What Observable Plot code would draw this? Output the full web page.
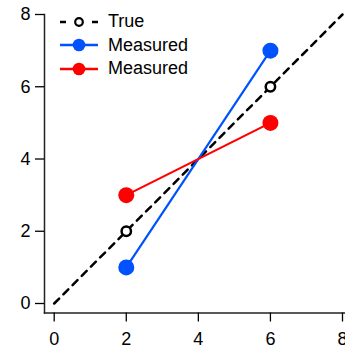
<!DOCTYPE html>
<html><head><meta charset="utf-8">
<script src="https://cdn.jsdelivr.net/npm/d3@7"></script>
<script src="https://cdn.jsdelivr.net/npm/@observablehq/plot@0.6"></script>
<style>
body{margin:0;background:#fff}
#c{position:relative;width:345px;height:351px;font-family:"Liberation Sans",Arial,sans-serif;color:#000}
#legend{position:absolute;left:60px;top:10px;font-size:18px;line-height:23.5px}
.row{display:flex;align-items:center;height:23.5px}
.row svg{margin-right:10px}
</style></head><body><div id="c"></div>
<script>
const xTicks = [0, 2, 4, 6, 8];
const yTicks = [0, 2, 4, 6, 8];
const lineX = [0, 8];
const lineY = [0, 8];
const trueX = [2, 6];
const trueY = [2, 6];
const blueX = [2, 6];
const blueY = [1, 7];
const redX = [2, 6];
const redY = [3, 5];
const legendLabels = ["True", "Measured", "Measured"];
const BLUE = "#0052ff", RED = "#ff0000";

const pts = (xs, ys) => xs.map((x, i) => ({x, y: ys[i]}));

const plot = Plot.plot({
  width: 345, height: 351,
  marginLeft: 44, marginRight: 0, marginTop: 14, marginBottom: 38.5,
  style: {fontFamily: '"Liberation Sans", Arial, sans-serif', color: "#000", background: "#fff"},
  x: {domain: [0, 8], range: [53.7, 342], ticks: xTicks, label: null},
  y: {domain: [0, 8], range: [303, 14], ticks: yTicks, label: null},
  marks: [
    Plot.frame({anchor: "left", stroke: "#222", strokeWidth: 1.5}),
    Plot.frame({anchor: "bottom", stroke: "#222", strokeWidth: 1.5}),
    Plot.axisX({ticks: xTicks, tickSize: 9, tickPadding: 10, strokeWidth: 1.3, label: null}),
    Plot.axisY({ticks: yTicks, tickSize: 9, tickPadding: 5, strokeWidth: 1.3, label: null}),
    Plot.line(pts(lineX, lineY), {x: "x", y: "y", stroke: "#000", strokeWidth: 2.5, strokeDasharray: "7,6"}),
    Plot.line(pts(blueX, blueY), {x: "x", y: "y", stroke: BLUE, strokeWidth: 2.2}),
    Plot.line(pts(redX, redY), {x: "x", y: "y", stroke: RED, strokeWidth: 2.2}),
    Plot.dot(pts(blueX, blueY), {x: "x", y: "y", r: 8, fill: BLUE, stroke: "none"}),
    Plot.dot(pts(redX, redY), {x: "x", y: "y", r: 8, fill: RED, stroke: "none"}),
    Plot.dot(pts(trueX, trueY), {x: "x", y: "y", r: 4.7, fill: "#fff", stroke: "#000", strokeWidth: 2.5})
  ]
});
d3.select(plot).selectAll("text").style("font-size", "18px");
const c = document.getElementById("c");
c.appendChild(plot);

const swatches = [
  `<svg width="38" height="16"><line x1="0" y1="8" x2="38" y2="8" stroke="#000" stroke-width="2.5" stroke-dasharray="6,26,6"/><circle cx="19" cy="8" r="3.8" fill="#fff" stroke="#000" stroke-width="2.2"/></svg>`,
  `<svg width="38" height="16"><line x1="0" y1="8" x2="38" y2="8" stroke="${BLUE}" stroke-width="2.5"/><circle cx="19" cy="8" r="6.3" fill="${BLUE}"/></svg>`,
  `<svg width="38" height="16"><line x1="0" y1="8" x2="38" y2="8" stroke="${RED}" stroke-width="2.5"/><circle cx="19" cy="8" r="6.3" fill="${RED}"/></svg>`
];
const legend = document.createElement("div");
legend.id = "legend";
legend.innerHTML = legendLabels.map((l, i) => `<div class="row">${swatches[i]}<span>${l}</span></div>`).join("");
c.appendChild(legend);
</script></body></html>
